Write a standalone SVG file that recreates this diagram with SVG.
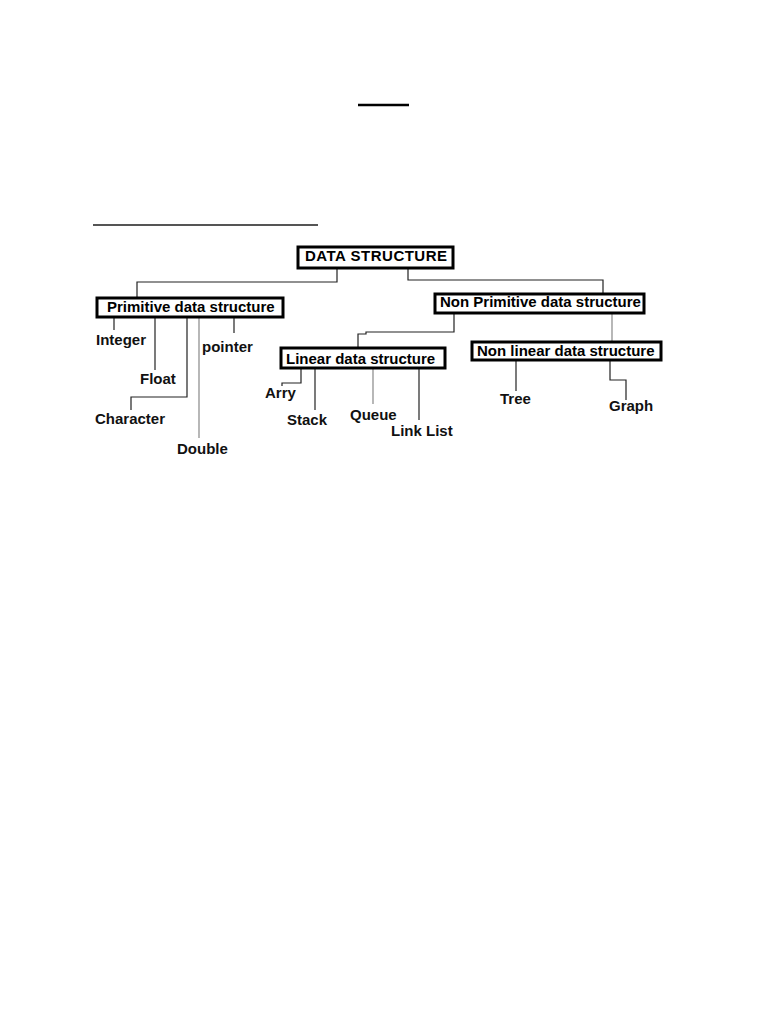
<svg xmlns="http://www.w3.org/2000/svg" width="768" height="1024" viewBox="0 0 768 1024">
<style>
.box{fill:#fff;stroke:#000;stroke-width:3}
.bt{font-family:"Liberation Sans",Arial,sans-serif;font-weight:bold;font-size:15px;fill:#000}
.lbl{font-family:"Liberation Sans",Arial,sans-serif;font-weight:bold;font-size:15px;fill:#111}
.c{fill:none;stroke:#222;stroke-width:1.2}
.g{fill:none;stroke:#888;stroke-width:1.2}
</style>
<rect width="768" height="1024" fill="#fff"/>
<line x1="358" y1="105" x2="409" y2="105" stroke="#000" stroke-width="2.5"/>
<line x1="93" y1="225" x2="318" y2="225" stroke="#555" stroke-width="2"/>
<g id="connectors">
<polyline class="c" points="337,268 337,282 137,282 137,298"/>
<polyline class="c" points="408,268 408,280 603,280 603,294"/>
<polyline class="c" points="114,317 114,330"/>
<polyline class="c" points="155,317 155,370"/>
<polyline class="c" points="187,317 187,397 131,397 131,410"/>
<polyline class="g" points="199,317 199,438"/>
<polyline class="c" points="234,317 234,333"/>
<polyline class="c" points="454,313 454,332 366,332 366,334 358,334 358,348"/>
<polyline class="g" points="612,313 612,342"/>
<polyline class="c" points="301,368 301,383 282,383 282,386"/>
<polyline class="c" points="315,368 315,410"/>
<polyline class="g" points="373,368 373,404"/>
<polyline class="c" points="419,368 419,420"/>
<polyline class="c" points="516,360 516,391"/>
<polyline class="c" points="610,360 610,380 626,380 626,400"/>
</g>
<g id="data-structure">
<rect class="box" x="298" y="247" width="155" height="21"/>
<text class="bt" x="305" y="261" letter-spacing="0.5">DATA STRUCTURE</text>
</g>
<g id="primitive">
<rect class="box" x="97" y="298" width="186" height="19"/>
<text class="bt" x="107" y="312">Primitive data structure</text>
</g>
<g id="non-primitive">
<rect class="box" x="435" y="294" width="209" height="19"/>
<text class="bt" x="440" y="307">Non Primitive data structure</text>
</g>
<g id="linear">
<rect class="box" x="281" y="348" width="164" height="20"/>
<text class="bt" x="286" y="364">Linear data structure</text>
</g>
<g id="non-linear">
<rect class="box" x="472" y="342" width="189" height="18"/>
<text class="bt" x="477" y="356">Non linear data structure</text>
</g>
<g id="integer"><text class="lbl" x="96" y="345">Integer</text></g>
<g id="float"><text class="lbl" x="140" y="384">Float</text></g>
<g id="character"><text class="lbl" x="95" y="424">Character</text></g>
<g id="double"><text class="lbl" x="177" y="454">Double</text></g>
<g id="pointer"><text class="lbl" x="202" y="352">pointer</text></g>
<g id="arry"><text class="lbl" x="265" y="398">Arry</text></g>
<g id="stack"><text class="lbl" x="287" y="425">Stack</text></g>
<g id="queue"><text class="lbl" x="350" y="420">Queue</text></g>
<g id="link-list"><text class="lbl" x="391" y="436">Link List</text></g>
<g id="tree"><text class="lbl" x="500" y="404">Tree</text></g>
<g id="graph"><text class="lbl" x="609" y="411">Graph</text></g>
</svg>
